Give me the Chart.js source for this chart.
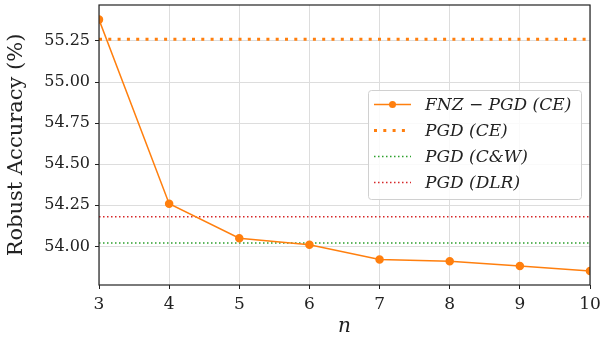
<!DOCTYPE html>
<html>
<head>
<meta charset="utf-8">
<script src="https://cdn.jsdelivr.net/npm/chart.js@4/dist/chart.umd.min.js"></script>
<style>
  html, body { margin: 0; padding: 0; background: #fff; }
  #wrap { width: 602px; height: 344px; }
</style>
</head>
<body>
<div id="wrap"><canvas id="myChart" width="602" height="344"></canvas></div>
<script>
const nValues = [3, 4, 5, 6, 7, 8, 9, 10]
const fnzPgdCE = [55.38, 54.26, 54.05, 54.01, 53.92, 53.91, 53.88, 53.85]
const pgdCE = 55.26
const pgdCW = 54.02
const pgdDLR = 54.18
const yTicks = [54.00, 54.25, 54.50, 54.75, 55.00, 55.25]

const labels = ['FNZ \u2212 PGD (CE)', 'PGD (CE)', 'PGD (C&W)', 'PGD (DLR)']
const orange = '#ff7f0e'
const green = '#2ca02c'
const red = '#d62728'
const serif = '"DejaVu Serif", "Liberation Serif", serif'

function flat(v){
    return [{x: nValues[0], y: v}, {x: nValues[nValues.length-1], y: v}]
}

// box round the plot + legend inside it
const framePlugin = {
    id: 'frame',
    afterDraw(chart){
        const c = chart.ctx
        const a = chart.chartArea
        c.save()
        c.strokeStyle = '#222'
        c.lineWidth = 1.2
        c.strokeRect(a.left, a.top, a.right - a.left, a.bottom - a.top)

        // legend
        const bx = 368, by = 90, bw = 213, bh = 109
        c.fillStyle = 'rgba(255,255,255,0.85)'
        c.strokeStyle = '#d0d0d0'
        c.lineWidth = 1
        c.beginPath()
        c.roundRect(bx + 0.5, by + 0.5, bw, bh, 3)
        c.fill()
        c.stroke()
        const rows = [104.5, 130.5, 156.5, 182.5]
        const styles = [
            {color: orange, width: 1.5, dash: [], marker: true},
            {color: orange, width: 3, dash: [3, 6.3]},
            {color: green, width: 1.5, dash: [1.5, 2.5]},
            {color: red, width: 1.5, dash: [1.5, 2.5]}
        ]
        rows.forEach((y, i) => {
            const s = styles[i]
            c.strokeStyle = s.color
            c.lineWidth = s.width
            c.setLineDash(s.dash)
            c.beginPath()
            c.moveTo(374, y)
            c.lineTo(411, y)
            c.stroke()
            c.setLineDash([])
            if(s.marker){
                c.fillStyle = s.color
                c.beginPath()
                c.arc(392.5, y, 3.5, 0, Math.PI*2)
                c.fill()
            }
            c.fillStyle = '#222'
            c.font = 'italic 17px ' + serif
            c.textBaseline = 'middle'
            c.fillText(labels[i], 425, y + 1)
        })
        c.restore()
    }
}

const ctx = document.getElementById('myChart').getContext('2d')
const chart = new Chart(ctx, {
    type: 'line',
    data: {
        datasets: [
            {
                label: labels[0],
                data: nValues.map((n, i) => ({x: n, y: fnzPgdCE[i]})),
                borderColor: orange,
                backgroundColor: orange,
                borderWidth: 1.5,
                pointRadius: 3.5,
                pointHoverRadius: 3.5,
                order: 0
            },
            {
                label: labels[1],
                data: flat(pgdCE),
                borderColor: orange,
                borderWidth: 3,
                borderDash: [3, 6.3],
                pointRadius: 0,
                order: 1
            },
            {
                label: labels[2],
                data: flat(pgdCW),
                borderColor: green,
                borderWidth: 1.5,
                borderDash: [1.5, 2.5],
                pointRadius: 0,
                order: 2
            },
            {
                label: labels[3],
                data: flat(pgdDLR),
                borderColor: red,
                borderWidth: 1.5,
                borderDash: [1.5, 2.5],
                pointRadius: 0,
                order: 3
            }
        ]
    },
    options: {
        responsive: false,
        animation: false,
        layout: { padding: { top: 5, right: 12, left: 0, bottom: 0 } },
        plugins: {
            legend: { display: false },
            tooltip: { enabled: false }
        },
        scales: {
            x: {
                type: 'linear',
                min: 3,
                max: 10,
                afterFit(scale){
                    scale.height = 59
                    scale.paddingLeft = 0
                    scale.paddingRight = 0
                },
                grid: { color: '#dddddd', lineWidth: 1, tickColor: '#222', tickLength: 4 },
                border: { display: false },
                ticks: {
                    stepSize: 1,
                    color: '#222',
                    font: { family: serif, size: 17 },
                    padding: 5
                },
                title: {
                    display: true,
                    text: 'n',
                    color: '#222',
                    font: { family: serif, size: 20, style: 'italic' },
                    padding: { top: 0, bottom: 5 }
                }
            },
            y: {
                min: 53.765,
                max: 55.469,
                afterFit(scale){
                    scale.width = 99
                    scale.paddingTop = 0
                    scale.paddingBottom = 0
                },
                afterBuildTicks(scale){ scale.ticks = yTicks.map(v => ({value: v})) },
                grid: { color: '#dddddd', lineWidth: 1, tickColor: '#222', tickLength: 4 },
                border: { display: false },
                ticks: {
                    color: '#222',
                    font: { family: serif, size: 16 },
                    padding: 5,
                    callback: v => v.toFixed(2)
                },
                title: {
                    display: true,
                    text: 'Robust Accuracy (%)',
                    color: '#222',
                    font: { family: serif, size: 21 },
                    padding: { top: 4, bottom: 2 }
                }
            }
        }
    },
    plugins: [framePlugin]
})
</script>
</body>
</html>
